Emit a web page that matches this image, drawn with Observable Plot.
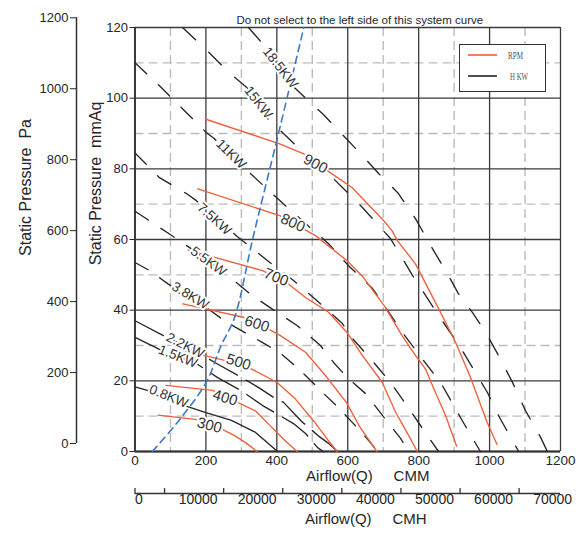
<!DOCTYPE html>
<html>
<head>
<meta charset="utf-8">
<script src="https://cdn.jsdelivr.net/npm/d3@7"></script>
<script src="https://cdn.jsdelivr.net/npm/@observablehq/plot@0.6"></script>
<style>
  html, body { margin: 0; padding: 0; background: #fff; }
  #wrap { position: relative; width: 580px; height: 536px; font-family: "Liberation Sans", Arial, sans-serif; }
  #legend { position: absolute; left: 459px; top: 44px; width: 87px; height: 48px; box-sizing: border-box;
            border: 1.5px solid #333; background: #fff; }
</style>
</head>
<body>
<div id="wrap"></div>
<script>
// ---------- axis / unit data ----------
const CMH_PER_CMM = 60;
const PA_PER_MMAQ = 9.96;          // as drawn on the secondary pressure axis
const cmmTicks = [0, 200, 400, 600, 800, 1000, 1200];
const cmmMinor = [100, 300, 500, 700, 900, 1100];
const mmAqTicks = [0, 20, 40, 60, 80, 100, 120];
const mmAqMinor = [10, 30, 50, 70, 90, 110];
const paTicks = [0, 200, 400, 600, 800, 1000, 1200];
const cmhTicks = [0, 10000, 20000, 30000, 40000, 50000, 60000, 70000];
const cmhMinor = [0, 5000, 15000, 25000, 35000, 45000, 55000, 65000];

// ---------- RPM curves [CMM, mmAq] ----------
const rpmNames = ["300", "400", "500", "600", "700", "800", "900"];
const rpm300 = [[65,10.3],[175,9.0],[243,6.4],[281,4.5],[315,2.3],[344,0]];
const rpm400 = [[88,18.7],[219,17.3],[294,13.7],[341,11.4],[378,7.6],[420,3.4],[457,0]];
const rpm500 = [[115,29],[245,26],[328,23.4],[400,19.6],[452,14.9],[505,8.5],[540,3.8],[570,0]];
const rpm600 = [[135,41.8],[305,38],[385,34.2],[410,32.8],[481,28.1],[537,21.5],[596,13.9],[635,6.8],[682,0]];
const rpm700 = [[150,57],[360,51.2],[430,47.6],[481,43.6],[546,39.4],[598,33.7],[641,27.2],[697,19.6],[735,11.1],[772,4.5],[796,0]];
const rpm800 = [[177,74.3],[410,66.7],[475,63],[509,61.1],[598,54],[644,49.3],[706,40.8],[753,32.8],[791,27.2],[819,23.4],[847,16.8],[876,10.2],[907,1.5]];
const rpm900 = [[198,94.1],[410,87],[476,84.2],[542,79.5],[612,74.7],[697,65.8],[725,62.5],[740,59.7],[791,53.1],[852,41.3],[904,30.9],[946,21],[993,8.3],[1021,2]];
const rpmLabelQ = [210, 254, 292, 344, 398, 445, 509];
const rpmLabelP = [7.4, 15.2, 25.3, 36.1, 49.3, 64.7, 81.4];
const rpmLabelAngle = [15, 17, 17, 18, 22, 24, 28];

// ---------- power curves [CMM, mmAq] ----------
const kwNames = ["18.5KW", "15KW", "11KW", "7.5KW", "5.5KW", "3.8KW", "2.2KW", "1.5KW", "0.8KW"];
const kw18_5 = [[320,120],[360,115.4],[439,104],[481,100],[532,95.3],[585,89.7],[636,84.3],[687,78.7],[743,73],[791,65.9],[839,57.4],[881,50.3],[912,44.7],[952,39.3],[989,33.7],[1025,27.2],[1065,19.5],[1101,11.6],[1144,4],[1163,0]];
const kw15 = [[134,120],[210,112.8],[266,107.2],[317,102.9],[374,94.2],[402,91.6],[475,84.6],[560,77.2],[642,69],[721,60.2],[783,49.8],[853,39],[918,29.4],[994,16.7],[1025,10.2],[1082,0]];
const kw11 = [[0,110],[69,103.5],[131,97.3],[202,90.2],[224,88.5],[323,78.9],[402,71.6],[481,64.5],[546,58.8],[602,52.6],[670,46.1],[707,40.7],[754,33.7],[814,25.7],[862,19.5],[926,8.2],[974,0]];
const kw7_5 = [[0,84.5],[69,77.5],[145,73],[173,71],[289,60.8],[320,58.3],[374,54],[447,48.4],[503,43.6],[551,39.3],[585,36.2],[613,32],[664,26.3],[721,19.5],[771,12.4],[828,4],[856,0]];
const kw5_5 = [[0,68],[92,61.9],[154,57.7],[252,50.6],[331,44.1],[402,39.3],[458,35.6],[523,30],[560,25.2],[599,20.9],[650,16.4],[698,10.2],[749,3.7],[771,0]];
const kw3_8 = [[0,53.5],[41,51.2],[92,47.5],[202,40.7],[252,37],[300,34.2],[360,30.8],[408,28],[467,22.9],[529,16.7],[574,12.4],[616,7.9],[659,3.1],[684,0]];
const kw2_2 = [[0,37],[92,32.2],[182,27.7],[230,24.9],[300,21],[350,18],[396,15],[419,13.9],[470,8.5],[520,4.2],[546,2.3],[571,0]];
const kw1_5 = [[0,32.3],[75,28.6],[173,24.9],[233,20.9],[298,17.3],[360,13],[447,7.9],[481,5.1],[515,1.1],[531,0]];
const kw0_8 = [[0,18.3],[35,17.3],[140,13],[200,11],[272,8.8],[340,5.4],[402,0]];
const kwLabelQ = [410, 348, 271, 224, 207, 156, 142, 121, 95];
const kwLabelP = [108.6, 98.8, 84.2, 65.8, 53.8, 44.1, 30, 26.9, 15.6];
const kwLabelAngle = [52, 52, 44, 42, 36, 31, 27, 22, 22];

// ---------- system curve [CMM, mmAq] ----------
const systemCurve = [[49,0],[120,8.3],[201,19.6],[243,30],[281,38],[332,60.2],[410,92.2],[476,120]];

// ---------- styles ----------
const RED = "#ef5f3c";
const INK = "#262626";
const BLUE = "#3d79c4";
const kwDash = ["18,18", "18,18", "16,16", "16,16", "16,15", "15,14", "32,10", "32,10", null];

const toRows = (pts, s) => pts.map(([q, p]) => ({q, p, s}));
const rpmSeries = [rpm300, rpm400, rpm500, rpm600, rpm700, rpm800, rpm900];
const kwSeries = [kw18_5, kw15, kw11, kw7_5, kw5_5, kw3_8, kw2_2, kw1_5, kw0_8];
const rpmRows = rpmSeries.flatMap((pts, i) => toRows(pts, rpmNames[i]));
const rpmLabels = rpmNames.map((t, i) => ({t, q: rpmLabelQ[i], p: rpmLabelP[i], a: rpmLabelAngle[i]}));
const kwLabels = kwNames.map((t, i) => ({t, q: kwLabelQ[i], p: kwLabelP[i], a: kwLabelAngle[i]}));

const kwMarks = kwSeries.map((pts, i) => Plot.line(toRows(pts, kwNames[i]), {
  x: "q", y: "p", stroke: INK, strokeWidth: 1.35,
  strokeDasharray: kwDash[i] || undefined
}));

const chart = Plot.plot({
  width: 580,
  height: 536,
  marginLeft: 134.5,
  marginRight: 20,
  marginTop: 27,
  marginBottom: 85,
  style: {fontFamily: "Liberation Sans, Arial, sans-serif", fontSize: "13px", color: "#262626", background: "transparent", overflow: "visible"},
  x: {domain: [0, 1200], axis: null, label: null},
  y: {domain: [0, 120], axis: null, label: null},
  marks: [
    // grid
    Plot.ruleX(cmmMinor, {stroke: "#bcbcbc", strokeWidth: 1.4, strokeDasharray: "9,5"}),
    Plot.ruleY(mmAqMinor, {stroke: "#bcbcbc", strokeWidth: 1.4, strokeDasharray: "9,5"}),
    Plot.ruleX(cmmTicks, {stroke: "#3a3a3a", strokeWidth: 1.3}),
    Plot.ruleY(mmAqTicks, {stroke: "#3a3a3a", strokeWidth: 1.3}),
    Plot.ruleX([0], {stroke: "#333", strokeWidth: 1.8}),
    Plot.ruleY([0], {stroke: "#333", strokeWidth: 1.8}),
    // power lines
    ...kwMarks,
    // rpm curves
    Plot.line(rpmRows, {x: "q", y: "p", z: "s", stroke: RED, strokeWidth: 1.35}),
    // system curve
    Plot.line(toRows(systemCurve, "sys"), {x: "q", y: "p", stroke: BLUE, strokeWidth: 1.6, strokeDasharray: "7,5", curve: "catmull-rom"}),
    // labels on curves
    Plot.text(kwLabels, {x: "q", y: "p", text: "t", rotate: "a", fontSize: 13.5, fill: "#333",
      stroke: "white", strokeWidth: 4, paintOrder: "stroke"}),
    Plot.text(rpmLabels, {x: "q", y: "p", text: "t", rotate: "a", fontSize: 15, fill: "#333",
      stroke: "white", strokeWidth: 4, paintOrder: "stroke"}),
    // mmAq axis
    Plot.axisY(mmAqTicks, {anchor: "left", tickSize: 5, tickPadding: 2, fontSize: 13, label: null}),
    // Pa axis (secondary)
    Plot.ruleX([0], {y1: 0, y2: 1200 / PA_PER_MMAQ, dx: -58.5, dy: -8, stroke: "#333", strokeWidth: 1.5}),
    Plot.axisY(paTicks.map(p => p / PA_PER_MMAQ), {anchor: "left", tickSize: 6, tickPadding: 2, fontSize: 13,
      dx: -58.5, dy: -8, label: null, tickFormat: d => String(Math.round(d * PA_PER_MMAQ))}),
    // CMM labels
    Plot.text(cmmTicks, {x: d => d, text: d => String(d), frameAnchor: "bottom", dy: 13, fontSize: 13.5}),
    // CMH axis (secondary)
    Plot.ruleY([0], {x1: 0, x2: 1200, dy: 42, stroke: "#333", strokeWidth: 1.3}),
    Plot.ruleX(cmhMinor.map(d => d / CMH_PER_CMM), {y1: 0, y2: 1.4, dy: 42, stroke: "#333", strokeWidth: 1.3}),
    Plot.text(cmhTicks, {x: d => d / CMH_PER_CMM, text: d => String(d), frameAnchor: "bottom", dy: 52, dx: 4, fontSize: 14}),
    // titles
    Plot.text(["Do not select to the left side of this system curve"], {frameAnchor: "top", dy: -12, dx: 12, fontSize: 11.5}),
    Plot.text(["Airflow(Q)     CMM"], {frameAnchor: "bottom", dy: 29, dx: 20, fontSize: 15}),
    Plot.text(["Airflow(Q)     CMH"], {frameAnchor: "bottom", dy: 72, dx: 18, fontSize: 15}),
    Plot.text(["Static Pressure  mmAq"], {frameAnchor: "left", textAnchor: "middle", rotate: -90, dx: -39, dy: -56, fontSize: 16}),
    Plot.text(["Static Pressure  Pa"], {frameAnchor: "left", textAnchor: "middle", rotate: -90, dx: -109, dy: -52, fontSize: 16})
  ]
});

const wrap = document.getElementById("wrap");
wrap.appendChild(chart);

// legend
const legend = document.createElement("div");
legend.id = "legend";
legend.innerHTML = `<svg width="84" height="45" style="display:block">
  <line x1="8" x2="37" y1="10" y2="10" stroke="${RED}" stroke-width="1.6"/>
  <text x="48" y="14" font-family="Liberation Serif" font-size="11" fill="#555" textLength="15" lengthAdjust="spacingAndGlyphs">RPM</text>
  <line x1="8" x2="37" y1="31" y2="31" stroke="${INK}" stroke-width="1.6"/>
  <text x="50" y="35" font-family="Liberation Serif" font-size="11" fill="#555" textLength="18" lengthAdjust="spacingAndGlyphs">H  KW</text>
</svg>`;
wrap.appendChild(legend);
</script>
</body>
</html>
